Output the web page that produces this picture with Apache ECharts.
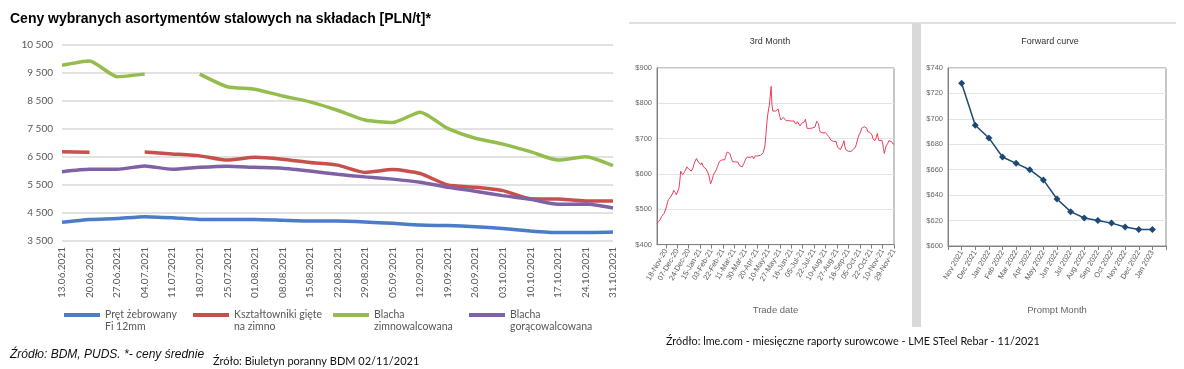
<!DOCTYPE html>
<html><head><meta charset="utf-8">
<script src="https://cdn.jsdelivr.net/npm/echarts@6/dist/echarts.min.js"></script>
<style>html,body{margin:0;padding:0;background:#fff}#c{width:1184px;height:369px}</style>
</head><body><div id="c"></div>
<script>
// ---- Chart 1: weekly steel prices (PLN/t)
const weeks = ['13.06.2021','20.06.2021','27.06.2021','04.07.2021','11.07.2021','18.07.2021','25.07.2021','01.08.2021','08.08.2021','15.08.2021','22.08.2021','29.08.2021','05.09.2021','12.09.2021','19.09.2021','26.09.2021','03.10.2021','10.10.2021','17.10.2021','24.10.2021','31.10.2021'];
const pret = [4170,4270,4300,4370,4330,4270,4270,4270,4240,4210,4210,4180,4130,4070,4050,4010,3950,3860,3800,3800,3820];
const ksztaltowniki = [6690,6670,null,6680,6610,6540,6390,6490,6420,6300,6210,5950,6050,5910,5500,5420,5300,5010,5000,4930,4930];
const zimnowalcowana = [9780,9930,9370,9460,null,9460,9010,8920,8680,8470,8170,7820,7730,8100,7520,7170,6960,6690,6390,6510,6190];
const goracowalcowana = [5975,6060,6060,6180,6060,6130,6170,6130,6100,6000,5880,5790,5710,5600,5420,5280,5120,4990,4810,4820,4680];
const seriesNames = ['Pręt żebrowany Fi 12mm','Kształtowniki gięte na zimno','Blacha zimnowalcowana','Blacha gorącowalcowana'];
const legendLines = {
  'Pręt żebrowany Fi 12mm': ['Pręt żebrowany', 'Fi 12mm'],
  'Kształtowniki gięte na zimno': ['Kształtowniki gięte', 'na zimno'],
  'Blacha zimnowalcowana': ['Blacha', 'zimnowalcowana'],
  'Blacha gorącowalcowana': ['Blacha', 'gorącowalcowana']
};

// ---- Chart 2: LME steel rebar 3rd month (USD/t), one value per trading day
const tradeLabels = ['18-Nov-20','07-Dec-20','24-Dec-20','15-Jan-21','03-Feb-21','22-Feb-21','11-Mar-21','30-Mar-21','20-Apr-21','10-May-21','27-May-21','16-Jun-21','05-Jul-21','22-Jul-21','10-Aug-21','27-Aug-21','16-Sep-21','05-Oct-21','22-Oct-21','10-Nov-21','29-Nov-21'];
const labelLead = 10;   // trading days before first labelled date
const labelStep = 13;   // trading days between labelled dates
const month3 = [
460,462,466,468,472,479,482,484,488,493,
501,510,520,527,532,533,534,538,546,554,
551,547,541,542,545,560,580,608,604,598,
601,604,607,614,620,623,614,612,612,608,
611,617,626,634,639,644,648,634,634,636,
626,632,631,620,623,622,614,609,603,596,
586,572,576,585,595,601,604,609,615,621,
628,635,636,634,640,638,636,640,647,656,
662,661,660,658,650,642,635,631,631,634,
634,632,634,630,624,620,619,620,623,630,
636,642,646,648,645,645,647,645,647,650,
643,645,651,655,654,651,650,651,653,654,
656,660,665,680,709,741,765,781,795,820,
848,795,778,782,780,778,777,783,784,773,
762,753,749,754,760,762,756,751,750,750,
751,749,750,750,749,750,750,748,741,736,
748,746,744,736,739,744,747,743,748,755,
759,729,727,727,729,729,729,730,731,732,
733,737,749,750,743,726,719,717,717,716,
716,719,717,713,711,708,705,702,696,692,
695,692,690,694,692,682,675,671,670,669,
669,672,686,694,678,669,667,665,664,667,
666,664,667,669,670,672,676,683,693,702,
710,714,719,729,732,727,734,734,732,729,
720,718,722,717,713,710,700,695,694,699,
705,715,702,694,691,696,696,688,672,658,
670,679,683,687,694,698,696,692,688,685,684];

// ---- Chart 3: forward curve (USD/t)
const fwdMonths = ['Nov 2021','Dec 2021','Jan 2022','Feb 2022','Mar 2022','Apr 2022','May 2022','Jun 2022','Jul 2022','Aug 2022','Sep 2022','Oct 2022','Nov 2022','Dec 2022','Jan 2023'];
const fwdValues = [728,695,685,670,665,660,652,637,627,622,620,618,615,613,613];

const colors1 = ['#4a7cc8','#c8504c','#94bd4e','#7f62a6'];
const seriesData1 = [pret, ksztaltowniki, zimnowalcowana, goracowalcowana];
const legendLeft = [64, 193, 333, 469];

const fontXL = "Lato, 'Open Sans', sans-serif";
const fontNarrow = "'Liberation Sans', Arial, sans-serif";

const tradeIdx = month3.map((_, i) => String(i));
const isLabelIdx = (i) => i >= labelLead && (i - labelLead) % labelStep === 0;

const fwdCats = [''].concat(fwdMonths, ['']);
const fwdData = [null].concat(fwdValues, [null]);

const fmtSpace = v => String(v).replace(/\B(?=(\d{3})+(?!\d))/g, ' ');

const chart = echarts.init(document.getElementById('c'), null, {renderer: 'canvas'});
chart.setOption({
  animation: false,
  backgroundColor: '#fff',
  grid: [
    {left: 62, top: 45, width: 551, height: 196},
    {left: 657, top: 68, width: 237, height: 176.6, show: true, borderColor: '#8c8c8c', borderWidth: 1},
    {left: 948, top: 68, width: 218, height: 178, show: true, borderColor: '#8c8c8c', borderWidth: 1}
  ],
  legend: seriesNames.map((n, k) => ({
    data: [n], left: legendLeft[k], top: 297, padding: 0,
    icon: 'rect', itemWidth: 36, itemHeight: 4, selectedMode: false,
    formatter: name => '\n' + legendLines[name].join('\n'),
    textStyle: {fontFamily: fontXL, fontSize: 10.5, color: '#595959', lineHeight: 12}
  })),
  xAxis: [
    {type: 'category', gridIndex: 0, data: weeks, boundaryGap: false,
     axisLine: {show: false}, axisTick: {show: false},
     axisLabel: {rotate: 90, interval: 0, fontSize: 10, color: '#595959', fontFamily: fontXL, margin: 6}},
    {type: 'category', gridIndex: 1, data: tradeIdx, boundaryGap: false,
     axisLine: {lineStyle: {color: '#7f7f7f'}},
     axisTick: {show: true, length: 4, interval: (i) => isLabelIdx(i), lineStyle: {color: '#7f7f7f'}},
     axisLabel: {rotate: 60, interval: (i) => isLabelIdx(i), fontSize: 7.5, color: '#5a5a5a', fontFamily: fontNarrow, margin: 5,
       formatter: (v, i) => tradeLabels[(Number(v) - labelLead) / labelStep]},
     name: 'Trade date', nameLocation: 'middle', nameGap: 61,
     nameTextStyle: {fontSize: 9.5, color: '#666', fontFamily: fontNarrow}},
    {type: 'category', gridIndex: 2, data: fwdCats, boundaryGap: false,
     axisLine: {lineStyle: {color: '#7f7f7f'}},
     axisTick: {show: true, length: 4, interval: 0, lineStyle: {color: '#7f7f7f'}},
     axisLabel: {rotate: 60, interval: 0, fontSize: 7.5, color: '#5a5a5a', fontFamily: fontNarrow, margin: 5},
     name: 'Prompt Month', nameLocation: 'middle', nameGap: 59,
     nameTextStyle: {fontSize: 9.5, color: '#666', fontFamily: fontNarrow}}
  ],
  yAxis: [
    {type: 'value', gridIndex: 0, min: 3500, max: 10500, interval: 1000,
     axisLine: {show: false}, axisTick: {show: false},
     axisLabel: {formatter: fmtSpace, fontSize: 10, color: '#595959', fontFamily: fontXL, margin: 9},
     splitLine: {lineStyle: {color: '#d9d9d9', width: 1.5}}},
    {type: 'value', gridIndex: 1, min: 400, max: 900, interval: 100,
     axisLine: {show: true, lineStyle: {color: '#7f7f7f'}}, axisTick: {show: false},
     axisLabel: {formatter: v => '$' + v, fontSize: 7.5, color: '#666', fontFamily: fontNarrow, margin: 5},
     splitLine: {lineStyle: {color: '#e4e4e4'}}},
    {type: 'value', gridIndex: 2, min: 600, max: 740, interval: 20,
     axisLine: {show: true, lineStyle: {color: '#7f7f7f'}}, axisTick: {show: false},
     axisLabel: {formatter: v => '$' + v, fontSize: 7.5, color: '#666', fontFamily: fontNarrow, margin: 5},
     splitLine: {lineStyle: {color: '#e4e4e4'}}}
  ],
  series: seriesNames.map((n, k) => ({
    name: n, type: 'line', xAxisIndex: 0, yAxisIndex: 0, data: seriesData1[k],
    smooth: 0.2, symbol: 'none', connectNulls: false, color: colors1[k],
    lineStyle: {width: 3.5, color: colors1[k]}
  })).concat([
    {name: '3rd Month', type: 'line', xAxisIndex: 1, yAxisIndex: 1, data: month3,
     symbol: 'none', color: '#ec3d5c', lineStyle: {width: 1, color: '#ec3d5c'}},
    {name: 'Forward curve', type: 'line', xAxisIndex: 2, yAxisIndex: 2, data: fwdData,
     symbol: 'diamond', symbolSize: 7, color: '#1c4a74', lineStyle: {width: 1.5, color: '#1c4a74'},
     itemStyle: {color: '#1c4a74'}}
  ]),
  graphic: [
    {type: 'text', style: {x: 10, y: 19, text: 'Ceny wybranych asortymentów stalowych na składach [PLN/t]*',
      font: "bold 14px 'Liberation Sans', Arial, sans-serif", fill: '#000', verticalAlign: 'middle'}},
    {type: 'text', style: {x: 10, y: 355, text: 'Źródło: BDM, PUDS. *- ceny średnie',
      font: "italic 12px 'Liberation Sans', Arial, sans-serif", fill: '#111', verticalAlign: 'middle'}},
    {type: 'text', style: {x: 213, y: 361, text: 'Źróło: Biuletyn poranny BDM 02/11/2021',
      font: "11px Lato, 'Open Sans', sans-serif", fill: '#111', verticalAlign: 'middle'}},
    {type: 'text', style: {x: 666, y: 342, text: 'Źródło: lme.com - miesięczne raporty surowcowe - LME STeel Rebar - 11/2021',
      font: "10.8px Lato, 'Open Sans', sans-serif", fill: '#111', verticalAlign: 'middle'}},
    {type: 'text', style: {x: 770, y: 42, text: '3rd Month', align: 'center', verticalAlign: 'middle',
      font: "9px 'Liberation Sans', Arial, sans-serif", fill: '#333'}},
    {type: 'text', style: {x: 1050, y: 42, text: 'Forward curve', align: 'center', verticalAlign: 'middle',
      font: "9px 'Liberation Sans', Arial, sans-serif", fill: '#333'}},
    {type: 'line', shape: {x1: 629, y1: 23, x2: 1176, y2: 23}, style: {stroke: '#d6d6d6', lineWidth: 1.5}},
    {type: 'rect', shape: {x: 912, y: 23, width: 9, height: 304}, style: {fill: '#d9d9d9'}}
  ]
});
</script></body></html>
